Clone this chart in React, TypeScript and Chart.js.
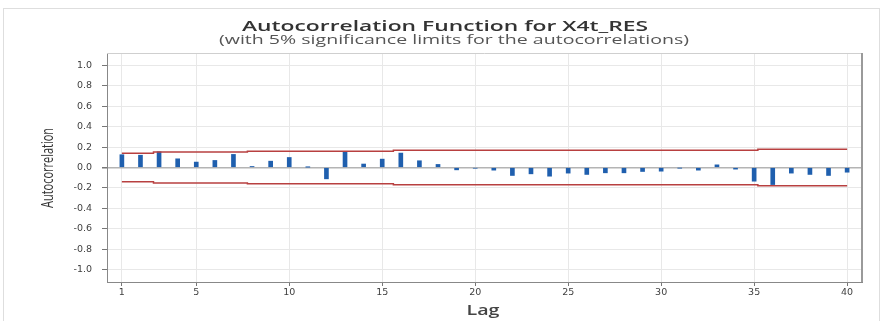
import { useEffect, useRef } from "react";
import { Chart, registerables } from "chart.js";

Chart.register(...registerables);

const TITLE = "Autocorrelation Function for X4t_RES";
const SUBTITLE = "(with 5% significance limits for the autocorrelations)";
const X_LABEL = "Lag";
const Y_LABEL = "Autocorrelation";

const LAGS = [
  1, 2, 3, 4, 5, 6, 7, 8, 9, 10, 11, 12, 13, 14, 15, 16, 17, 18, 19, 20,
  21, 22, 23, 24, 25, 26, 27, 28, 29, 30, 31, 32, 33, 34, 35, 36, 37, 38, 39, 40,
];
const ACF = [
  0.125, 0.12, 0.154, 0.085, 0.053, 0.069, 0.128, 0.01, 0.062, 0.098,
  0.003, -0.111, 0.154, 0.034, 0.082, 0.141, 0.066, 0.03, -0.023, -0.007,
  -0.026, -0.078, -0.062, -0.085, -0.055, -0.068, -0.052, -0.052, -0.039, -0.036,
  -0.005, -0.026, 0.026, -0.016, -0.134, -0.167, -0.055, -0.068, -0.078, -0.046,
];
const X_TICKS = [1, 5, 10, 15, 20, 25, 30, 35, 40];
const Y_TICKS = [-1.0, -0.8, -0.6, -0.4, -0.2, 0.0, 0.2, 0.4, 0.6, 0.8, 1.0];
const LIMIT_STEPS = [1, 2.7, 7.75, 15.6, 35.2, 40];
const LIMIT_VALUES = [0.14, 0.152, 0.158, 0.168, 0.178];

function limitPoints(sign: number) {
  const pts: { x: number; y: number }[] = [];
  for (let i = 0; i < LIMIT_VALUES.length; i++) {
    pts.push({ x: LIMIT_STEPS[i], y: sign * LIMIT_VALUES[i] });
    pts.push({ x: LIMIT_STEPS[i + 1], y: sign * LIMIT_VALUES[i] });
  }
  return pts;
}

function drawStretched(
  ctx: CanvasRenderingContext2D,
  text: string,
  font: string,
  color: string,
  cx: number,
  baseY: number,
  targetW: number
) {
  ctx.save();
  ctx.font = font;
  ctx.fillStyle = color;
  const w = ctx.measureText(text).width;
  ctx.translate(cx, baseY);
  ctx.scale(targetW / w, 1);
  ctx.textAlign = "center";
  ctx.textBaseline = "alphabetic";
  ctx.fillText(text, 0, 0);
  ctx.restore();
}

const textPlugin = {
  id: "texts",
  afterDraw(chart: any) {
    const ctx: CanvasRenderingContext2D = chart.ctx;
    const a = chart.chartArea;
    ctx.save();
    ctx.strokeStyle = "#cfcfcf";
    ctx.lineWidth = 1;
    ctx.beginPath();
    ctx.moveTo(a.left, a.top + 0.5);
    ctx.lineTo(a.right, a.top + 0.5);
    ctx.stroke();
    ctx.strokeStyle = "#9a9a9a";
    ctx.lineWidth = 2;
    ctx.beginPath();
    ctx.moveTo(a.right, a.top);
    ctx.lineTo(a.right, a.bottom);
    ctx.stroke();
    ctx.restore();

    drawStretched(ctx, TITLE, '600 15px "Open Sans"', "#333", 445, 31, 406);
    drawStretched(ctx, SUBTITLE, '400 12px "Open Sans"', "#555", 454, 44, 470);
    drawStretched(ctx, X_LABEL, '600 14px "Open Sans"', "#444", 483, 315, 33);

    ctx.save();
    ctx.font = '400 12px "Open Sans"';
    ctx.fillStyle = "#333";
    const w = ctx.measureText(Y_LABEL).width;
    ctx.translate(48, 168);
    ctx.rotate(-Math.PI / 2);
    ctx.scale(80 / w, 1.35);
    ctx.textAlign = "center";
    ctx.textBaseline = "middle";
    ctx.fillText(Y_LABEL, 0, 0);
    ctx.restore();
  },
};

export default function App() {
  const ref = useRef<HTMLCanvasElement | null>(null);

  useEffect(() => {
    if (!ref.current) return;
    const chart = new Chart(ref.current, {
      type: "bar",
      data: {
        datasets: [
          {
            type: "bar",
            data: LAGS.map((x, i) => ({ x, y: ACF[i] })),
            backgroundColor: "#1f5fae",
            barThickness: 4,
            order: 1,
          } as any,
          {
            type: "line",
            data: limitPoints(1),
            borderColor: "#b84040",
            borderWidth: 1.5,
            pointRadius: 0,
            fill: false,
            order: 0,
          } as any,
          {
            type: "line",
            data: limitPoints(-1),
            borderColor: "#b84040",
            borderWidth: 1.5,
            pointRadius: 0,
            fill: false,
            order: 0,
          } as any,
        ],
      },
      options: {
        animation: false,
        responsive: false,
        devicePixelRatio: 1,
        layout: { padding: { top: 53, right: 30, left: 0, bottom: 0 } },
        plugins: {
          legend: { display: false },
          tooltip: { enabled: false },
          title: { display: false },
        },
        scales: {
          x: {
            type: "linear",
            min: 0.2,
            max: 40.8,
            offset: false,
            afterBuildTicks: (s: any) => {
              s.ticks = X_TICKS.map((v) => ({ value: v }));
            },
            afterFit: (s: any) => {
              s.height = 39;
            },
            ticks: {
              autoSkip: false,
              maxRotation: 0,
              padding: 1,
              color: "#3f3f3f",
              font: { family: "DejaVu Sans", size: 9.5 },
              callback: (v: any) => String(v),
            },
            grid: {
              color: "#e8e8e8",
              tickLength: 4,
              tickColor: "#777",
              offset: false,
            },
            border: { color: "#888", width: 1 },
          },
          y: {
            type: "linear",
            min: -1.12,
            max: 1.12,
            afterBuildTicks: (s: any) => {
              s.ticks = Y_TICKS.map((v) => ({ value: v }));
            },
            afterFit: (s: any) => {
              s.width = 107;
            },
            ticks: {
              padding: 10,
              color: "#3f3f3f",
              font: { family: "DejaVu Sans", size: 9.5 },
              callback: (v: any) => (Math.abs(v) < 1e-9 ? "0.0" : Number(v).toFixed(1)),
            },
            grid: {
              color: (c: any) => (c.tick && Math.abs(c.tick.value) < 1e-9 ? "#b4b4b4" : "#e8e8e8"),
              lineWidth: (c: any) => (c.tick && Math.abs(c.tick.value) < 1e-9 ? 1.5 : 1),
              tickLength: 5,
              tickColor: "#777",
            },
            border: { color: "#888", width: 1 },
          },
        },
      } as any,
      plugins: [textPlugin],
    });
    return () => chart.destroy();
  }, []);

  return (
    <div style={{ position: "absolute", left: 0, top: 0, width: 892, height: 321, background: "#fff" }}>
      <div
        style={{
          position: "absolute",
          left: 3,
          top: 8,
          width: 877,
          height: 320,
          border: "1px solid #dedede",
          boxSizing: "border-box",
        }}
      />
      <canvas ref={ref} width={892} height={321} style={{ position: "absolute", left: 0, top: 0, width: 892, height: 321 }} />
    </div>
  );
}
